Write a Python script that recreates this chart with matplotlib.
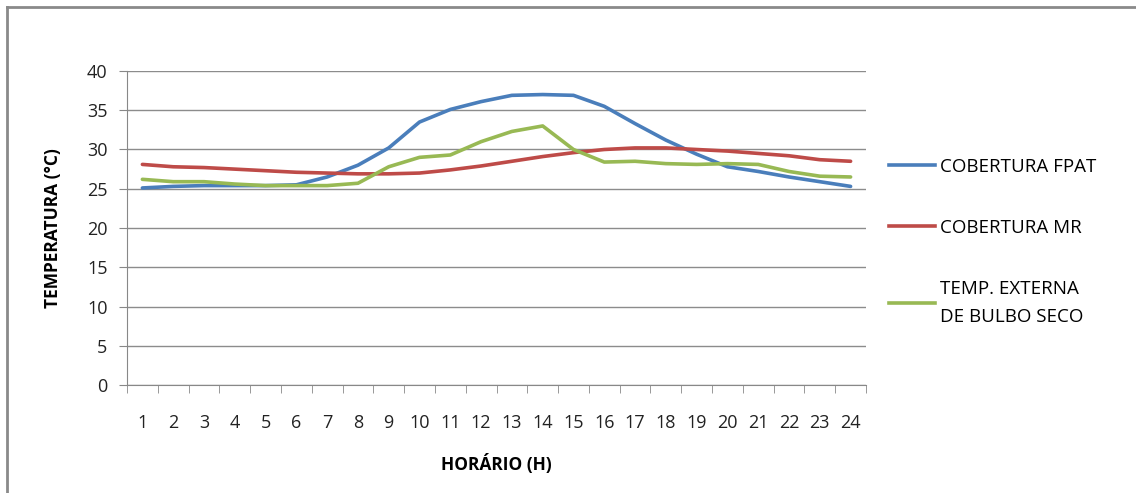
import matplotlib
matplotlib.use("Agg")
import matplotlib.pyplot as plt
from matplotlib.lines import Line2D

horas = list(range(1, 25))
fpat = [25.1, 25.3, 25.4, 25.4, 25.4, 25.5, 26.5, 28.0, 30.2, 33.5, 35.1, 36.1,
        36.9, 37.0, 36.9, 35.5, 33.3, 31.2, 29.4, 27.8, 27.2, 26.5, 25.9, 25.3]
mr = [28.1, 27.8, 27.7, 27.5, 27.3, 27.1, 27.0, 26.9, 26.9, 27.0, 27.4, 27.9,
      28.5, 29.1, 29.6, 30.0, 30.2, 30.2, 30.0, 29.8, 29.5, 29.2, 28.7, 28.5]
externa = [26.2, 25.9, 25.9, 25.6, 25.4, 25.4, 25.4, 25.7, 27.8, 29.0, 29.3, 31.0,
           32.3, 33.0, 30.0, 28.4, 28.5, 28.2, 28.1, 28.2, 28.1, 27.2, 26.6, 26.5]
nomes = ["COBERTURA FPAT", "COBERTURA MR", "TEMP. EXTERNA\nDE BULBO SECO"]
cores = ["#4A7EBB", "#BE4B48", "#98B954"]

plt.rcParams['font.family'] = ['Open Sans', 'DejaVu Sans']

fig = plt.figure(figsize=(11.36, 4.93), dpi=100)
ax = fig.add_axes([127/1136, 1-385/493, (866-127)/1136, (385-71)/493])

for serie, cor, nome in zip([fpat, mr, externa], cores, nomes):
    ax.plot(horas, serie, color=cor, lw=2.6, label=nome, solid_capstyle='round')

ax.set_xlim(0.5, 24.5)
ax.set_ylim(0, 40)
ax.set_yticks(range(0, 41, 5))
ax.set_xticks(horas)
ax.set_xticks([h + 0.5 for h in range(0, 25)], minor=True)
ax.tick_params(axis='x', which='major', length=0, pad=21, labelsize=13, colors='#222222')
ax.tick_params(axis='x', which='minor', length=6, color='#888888', direction='out')
ax.tick_params(axis='y', length=6, color='#888888', pad=8, labelsize=13, labelcolor='#222222')
ax.grid(axis='y', color='#8c8c8c', lw=1)
ax.set_axisbelow(True)
for s in ['top', 'right']:
    ax.spines[s].set_visible(False)
for s in ['left', 'bottom']:
    ax.spines[s].set_color('#888888')

ax.set_xlabel("HORÁRIO (H)", fontweight='bold', fontsize=12.5, labelpad=16)
ax.set_ylabel("TEMPERATURA (°C)", fontweight='bold', fontsize=12.5, labelpad=18)

handles = [Line2D([], [], color=c, lw=2.6) for c in cores]
leg = fig.legend(handles, nomes, loc='upper left', bbox_to_anchor=(872/1136, 1-141/493),
                 frameon=False, fontsize=13.5, handlelength=2.45, handletextpad=0.27,
                 labelspacing=2.3)
for t in leg.get_texts():
    t.set_linespacing(1.7)

# moldura do gráfico (topo e esquerda)
fig.add_artist(Line2D([7/1136, 1], [1-7/493, 1-7/493], color='#8a8a8a', lw=2))
fig.add_artist(Line2D([7/1136, 7/1136], [0, 1-7/493], color='#8a8a8a', lw=2))

fig.savefig("out.png", dpi=100)
